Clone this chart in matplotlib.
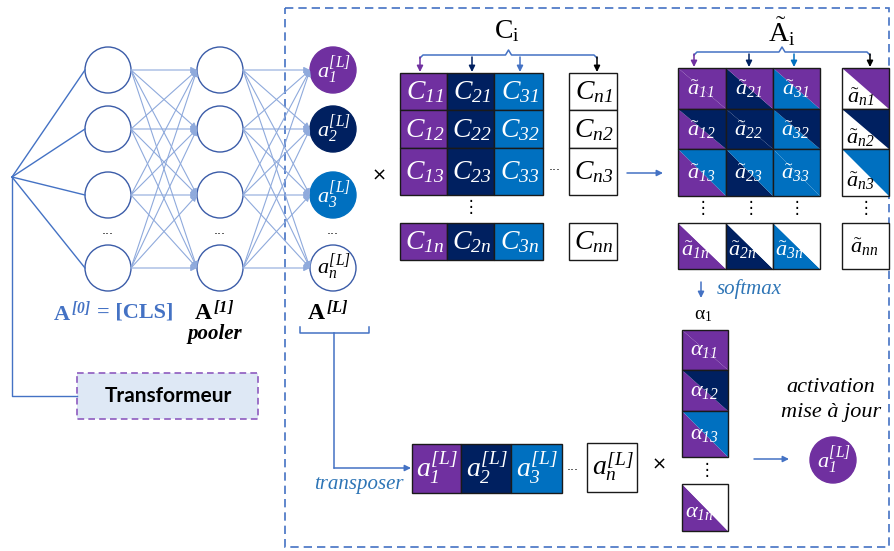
import matplotlib
matplotlib.use('Agg')
import matplotlib.pyplot as plt
from matplotlib.patches import Rectangle, Circle, Polygon

plt.rcParams['mathtext.fontset'] = 'custom'
plt.rcParams['mathtext.rm'] = 'Liberation Serif'
plt.rcParams['mathtext.it'] = 'Liberation Serif:italic'
plt.rcParams['mathtext.sf'] = 'Liberation Serif:italic'  # italic digits
plt.rcParams['mathtext.bf'] = 'Liberation Serif:bold'
plt.rcParams['mathtext.bfit'] = 'Liberation Serif:bold:italic'
plt.rcParams['font.family'] = ['Liberation Serif', 'DejaVu Sans']

PURPLE = '#7030a0'
NAVY = '#002060'
BLUE = '#0070c0'
LINE = '#4472c4'
LIGHT = '#8faadc'
TXTBLUE = '#2e75b6'

# labels and colours of the diagram
idx = ['1', '2', '3', 'n']
fills = [PURPLE, NAVY, BLUE, 'white']
ci_arrows = [PURPLE, NAVY, LINE, 'black']
ai_arrows = [PURPLE, NAVY, BLUE, 'black']
alpha_idx = ['11', '12', '13', '1n']
layer_labels = ['[0]', '[1]', '[L]']

# layout (pixels)
nn_x = [108, 220, 333]
nn_y = [70, 129, 195, 268]
R = 23
c_x = [400, 447, 494, 569]
c_w = [47, 47, 49, 48]
c_y = [73, 110, 148, 223]
c_h = [37, 38, 47, 37]
a_x = [678, 726, 773, 842]
a_w = [48, 47, 47, 47]
a_y = [68, 109, 149, 223]
a_h = [41, 40, 47, 46]
al_y = [330, 370, 411, 484]
al_h = [40, 41, 46, 47]
t_x = [412, 461, 511, 587]
t_w = [49, 50, 51, 50]

fig = plt.figure(figsize=(8.94, 5.51), dpi=100)
ax = fig.add_axes([0, 0, 1, 1])
ax.set_xlim(0, 894)
ax.set_ylim(551, 0)
ax.axis('off')


def arrow(x0, y0, x1, y1, color, lw=1.0, ms=9):
    ax.annotate('', xy=(x1, y1), xytext=(x0, y0),
                arrowprops=dict(arrowstyle='-|>', color=color, lw=lw,
                                mutation_scale=ms, shrinkA=0, shrinkB=0))


def tri_cell(x0, y0, w, h, lower, upper):
    ax.add_patch(Polygon([(x0, y0), (x0, y0 + h), (x0 + w, y0 + h)],
                         closed=True, fc=lower, ec='none'))
    ax.add_patch(Polygon([(x0, y0), (x0 + w, y0), (x0 + w, y0 + h)],
                         closed=True, fc=upper, ec='none'))
    ax.add_patch(Rectangle((x0, y0), w, h, fc='none', ec='#1a1a1a', lw=1))


def brace(x0, x1, y, color):
    xm = (x0 + x1) / 2
    ax.plot([x0, x0 + 3, xm - 3, xm, xm + 3, x1 - 3, x1],
            [y + 3, y, y, y - 5, y, y, y + 3], color=color, lw=1.1)


def act(k):
    return r'$a_{\mathsf{%s}}^{\mathsf{[L]}}$' % k


# dashed frame
ax.add_patch(Rectangle((285, 8), 604, 539, fc='none', ec=LINE, lw=1.2,
                       ls=(0, (5, 3))))

# input lines and link to the Transformeur box
for y in nn_y:
    ax.plot([12, nn_x[0] - R], [177, y], color=LINE, lw=1)
ax.plot([12, 12, 77], [177, 396, 396], color=LINE, lw=1)
ax.add_patch(Rectangle((77, 373), 181, 46, fc='#dee8f5', ec='#8e5bbf', lw=1.2,
                       ls=(0, (4, 2.5))))
ax.text(168, 396, 'Transformeur', ha='center', va='center', fontsize=15,
        fontweight='bold', family=['Lato', 'DejaVu Sans'])

# dense connections
for c in range(2):
    for yi in nn_y:
        for yj in nn_y:
            arrow(nn_x[c] + R, yi, nn_x[c + 1] - R, yj, LIGHT, lw=0.8, ms=9)

# neurons
for c in range(3):
    for j, y in enumerate(nn_y):
        if c < 2:
            ax.add_patch(Circle((nn_x[c], y), R, fc='white', ec='#3b5ca8', lw=1))
        else:
            ec = '#3b5ca8' if fills[j] == 'white' else fills[j]
            ax.add_patch(Circle((nn_x[c], y), R, fc=fills[j], ec=ec, lw=1))
            col = 'black' if fills[j] == 'white' else 'white'
            ax.text(nn_x[c] + 1, y, act(idx[j]),
                    ha='center', va='center', color=col, fontsize=16)
    ax.text(nn_x[c], 231, '...', ha='center', va='center', fontsize=9,
            family='DejaVu Sans')

# layer labels
ax.text(53, 313, r'$\mathbf{A}^{\,\mathbfit{%s}}$' % layer_labels[0],
        ha='left', va='center', color=LINE, fontsize=16)
ax.text(97, 313, '= [CLS]', ha='left', va='center', color=LINE,
        fontsize=16, fontweight='bold')
ax.text(214, 313, r'$\mathbf{A}^{\,\mathbfit{%s}}$' % layer_labels[1],
        ha='center', va='center', color='black', fontsize=17)
ax.text(215, 334, 'pooler', ha='center', va='center', fontsize=15,
        fontweight='bold', fontstyle='italic')
ax.text(328, 313, r'$\mathbf{A}^{\,\mathbfit{%s}}$' % layer_labels[2],
        ha='center', va='center', color='black', fontsize=17)

ax.text(379, 176, '×', ha='center', va='center', fontsize=13,
        family='DejaVu Sans')

# C matrix
ax.text(507, 31, r'$\mathrm{C}_{\mathrm{i}}$', ha='center', va='center',
        fontsize=20)
brace(420, 597, 55, LINE)
for xa, col in zip([420, 472, 520, 597], ci_arrows):
    arrow(xa, 57, xa, 72, col, lw=1.1, ms=9)
for i in range(4):
    for j in range(4):
        x0 = c_x[i]
        y0 = c_y[j]
        ax.add_patch(Rectangle((x0, y0), c_w[i], c_h[j], fc=fills[i],
                               ec='#1a1a1a', lw=1))
        col = 'black' if fills[i] == 'white' else 'white'
        ax.text(x0 + c_w[i] / 2 + 1, y0 + c_h[j] / 2 + 1,
                r'$C_{\mathsf{%s%s}}$' % (idx[i], idx[j]),
                ha='center', va='center', color=col, fontsize=20)
ax.text(471, 207, '⋮', ha='center', va='center', fontsize=12,
        family='DejaVu Sans')
ax.text(555, 167, '...', ha='center', va='center', fontsize=9,
        family='DejaVu Sans')

arrow(627, 173, 663, 173, LINE, lw=1.1, ms=9)

# A tilde matrix
ax.text(782, 32, r'$\tilde{\mathrm{A}}_{\mathrm{i}}$', ha='center', va='center',
        fontsize=20)
brace(694, 870, 52, LINE)
for xa, col in zip([694, 749, 794, 870], ai_arrows):
    arrow(xa, 54, xa, 67, col, lw=1.1, ms=9)
for i in range(4):
    for j in range(4):
        tri_cell(a_x[i], a_y[j], a_w[i], a_h[j], fills[i], fills[j])
        col = 'black' if fills[i] == 'white' else 'white'
        dx, dy = -1, 1
        if j == 3 and i < 3:
            dx, dy = -7, 4
        elif i == 3 and j < 3:
            dx, dy = -5, 9
        ax.text(a_x[i] + a_w[i] / 2 + dx, a_y[j] + a_h[j] / 2 + dy,
                r'$\tilde{a}_{\mathsf{%s%s}}$' % (idx[i], idx[j]),
                ha='center', va='center', color=col, fontsize=16)
for xd in [703, 751, 797, 866]:
    ax.text(xd, 208, '⋮', ha='center', va='center', fontsize=12,
            family='DejaVu Sans')

# softmax
arrow(701, 282, 701, 298, LINE, lw=1.1, ms=9)
ax.text(717, 289, 'softmax', ha='left', va='center', fontsize=15,
        fontstyle='italic', color=TXTBLUE)
ax.text(703, 315, r'$\mathrm{\alpha}_{\mathrm{1}}$', ha='center', va='center',
        fontsize=14)

# alpha column
for j in range(4):
    tri_cell(682, al_y[j], 46, al_h[j], PURPLE, fills[j])
    dx, dy = (-5, 5) if j == 3 else (0, 1)
    ax.text(704 + dx, al_y[j] + al_h[j] / 2 + dy,
            r'$\alpha_{\mathsf{%s}}$' % alpha_idx[j],
            ha='center', va='center', color='white', fontsize=16)
ax.text(707, 470, '⋮', ha='center', va='center', fontsize=12,
        family='DejaVu Sans')

# transposed activations
ax.plot([300, 300, 369, 369], [327, 333, 333, 327], color=LINE, lw=1.1)
ax.plot([334, 334], [333, 468], color=LINE, lw=1.1)
arrow(334, 468, 411, 468, LINE, lw=1.1, ms=9)
ax.text(359, 484, 'transposer', ha='center', va='center', fontsize=15,
        fontstyle='italic', color=TXTBLUE)
for i in range(4):
    y0 = 444 if i < 3 else 443
    ax.add_patch(Rectangle((t_x[i], y0), t_w[i], 49, fc=fills[i],
                           ec='#1a1a1a', lw=1))
    col = 'black' if fills[i] == 'white' else 'white'
    ax.text(t_x[i] + t_w[i] / 2 + 1, y0 + 24, act(idx[i]),
            ha='center', va='center', color=col, fontsize=20)
ax.text(573, 466, '...', ha='center', va='center', fontsize=9,
        family='DejaVu Sans')
ax.text(659, 465, '×', ha='center', va='center', fontsize=13,
        family='DejaVu Sans')

# result
arrow(754, 459, 789, 459, LINE, lw=1.1, ms=9)
ax.add_patch(Circle((833, 460), R, fc=PURPLE, ec=PURPLE))
ax.text(834, 460, act('1'), ha='center',
        va='center', color='white', fontsize=16)
ax.text(831, 388, 'activation', ha='center', va='center', fontsize=16,
        fontstyle='italic')
ax.text(831, 413, 'mise à jour', ha='center', va='center', fontsize=16,
        fontstyle='italic')

fig.savefig('out.png', dpi=100)
